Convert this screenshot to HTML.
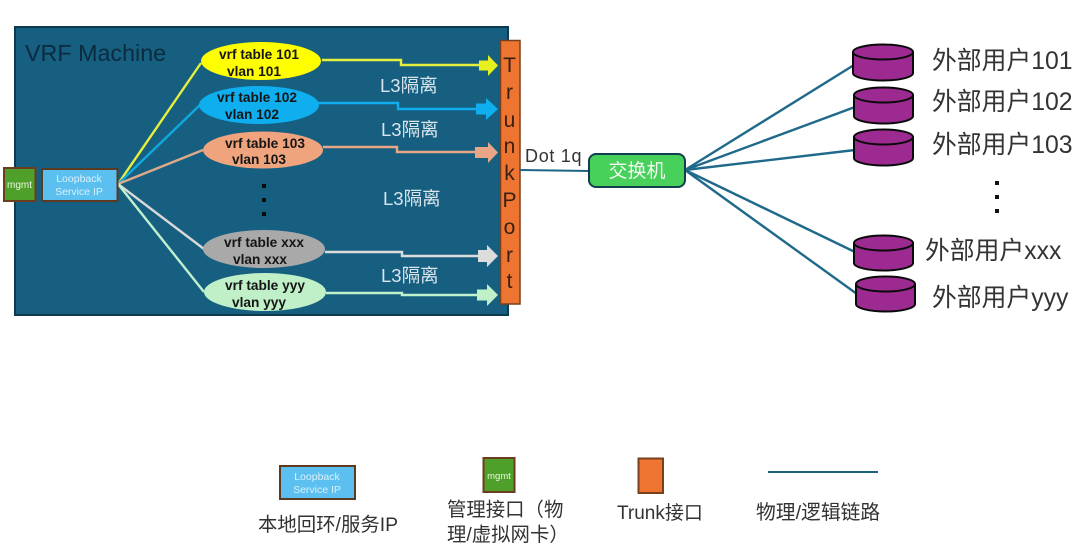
<!DOCTYPE html>
<html>
<head>
<meta charset="utf-8">
<style>
html,body{margin:0;padding:0;background:#fff;width:1080px;height:547px;overflow:hidden}
svg{display:block}
text{font-family:"Liberation Sans","Noto Sans CJK SC",sans-serif}
.e{font-size:13.7px;font-weight:bold;text-anchor:middle;fill:#151515}
.l3{font-size:18.5px;fill:#d9e6ee}
.t{font-size:21px;fill:#3a2010;text-anchor:middle}
.u{font-size:24.8px;fill:#333}
.g{font-size:19.4px;fill:#333}
.lb{font-size:10.5px;fill:#d8f1fb;text-anchor:middle}
.m{font-size:10px;fill:#e8f5dc;text-anchor:middle}
</style>
</head>
<body>
<svg width="1080" height="547" viewBox="0 0 1080 547" xmlns="http://www.w3.org/2000/svg">
<rect width="1080" height="547" fill="#fff"/>
<rect x="15" y="27" width="493" height="288" fill="#165f80" stroke="#0d3a4e" stroke-width="2"/>
<text x="25" y="61" font-size="23.3" fill="#0c2b3e">VRF Machine</text>

<g stroke-width="2.4" fill="none">
<line x1="118" y1="184" x2="201" y2="63" stroke="#e6f03c"/>
<line x1="118" y1="184" x2="200" y2="105" stroke="#0fa8e0"/>
<line x1="118" y1="184" x2="203" y2="150" stroke="#e0a98a"/>
<line x1="118" y1="184" x2="204" y2="249" stroke="#d9d9d9"/>
<line x1="118" y1="184" x2="204" y2="292" stroke="#c0f0cc"/>
</g>

<ellipse cx="261" cy="61" rx="60" ry="19" fill="#ffff00"/>
<ellipse cx="259" cy="105" rx="60" ry="19" fill="#0eaeef"/>
<ellipse cx="263" cy="150" rx="60" ry="18.5" fill="#efa47d"/>
<ellipse cx="264" cy="249" rx="61" ry="19" fill="#a9a9a9"/>
<ellipse cx="265" cy="292" rx="61" ry="19" fill="#bff0c8"/>

<text class="e" x="259" y="59">vrf table 101</text>
<text class="e" x="254" y="76">vlan 101</text>
<text class="e" x="257" y="102">vrf table 102</text>
<text class="e" x="252" y="119">vlan 102</text>
<text class="e" x="265" y="148">vrf table 103</text>
<text class="e" x="259" y="164">vlan 103</text>
<text class="e" x="264" y="247">vrf table xxx</text>
<text class="e" x="260" y="264">vlan xxx</text>
<text class="e" x="265" y="290">vrf table yyy</text>
<text class="e" x="259" y="307">vlan yyy</text>

<g fill="none" stroke-width="2.4">
<polyline points="322,60 401,60 401,65 482,65" stroke="#e6f03c"/>
<polyline points="318,103 398,103 398,109 480,109" stroke="#0eaeef"/>
<polyline points="323,147 397,147 397,152 480,152" stroke="#e8a686"/>
<polyline points="325,252 402,252 402,256 480,256" stroke="#dcdcdc"/>
<polyline points="326,293 402,293 402,295 480,295" stroke="#c0f0cc"/>
</g>
<polygon points="479,60.5 488,60.5 488,55 498,65.5 488,76 488,70.5 479,70.5" fill="#e6f01e"/>
<polygon points="476,103.5 486,103.5 486,98 498,109 486,120 486,114.5 476,114.5" fill="#0eaeef"/>
<polygon points="475,147 488,147 488,142 498,152.5 488,163 488,158 475,158" fill="#e8a686"/>
<polygon points="478,250 487,250 487,245 498,256 487,267 487,262 478,262" fill="#dcdcdc"/>
<polygon points="477,289.5 487,289.5 487,284 498,295 487,306 487,300.5 477,300.5" fill="#bff0c8"/>

<g fill="#0a0a0a">
<rect x="262" y="184" width="4" height="4"/>
<rect x="262" y="198" width="4" height="4"/>
<rect x="262" y="212" width="4" height="4"/>
</g>

<text class="l3" x="380" y="92">L3隔离</text>
<text class="l3" x="381" y="136">L3隔离</text>
<text class="l3" x="383" y="205">L3隔离</text>
<text class="l3" x="381" y="282">L3隔离</text>

<rect x="500.5" y="40.5" width="19.5" height="263.5" fill="#ed7431" stroke="#7a3f1c" stroke-width="1.5"/>
<text class="t" x="509.5" y="72">T</text>
<text class="t" x="509.5" y="99">r</text>
<text class="t" x="509.5" y="127">u</text>
<text class="t" x="509.5" y="153">n</text>
<text class="t" x="509.5" y="180">k</text>
<text class="t" x="509.5" y="207">P</text>
<text class="t" x="509.5" y="234">o</text>
<text class="t" x="509.5" y="262">r</text>
<text class="t" x="509.5" y="288">t</text>

<rect x="4" y="168" width="31.5" height="33" fill="#4fa02a" stroke="#6b3d1e" stroke-width="2"/>
<text class="m" x="19.5" y="188">mgmt</text>
<rect x="42" y="169" width="75.5" height="32" fill="#5bbff0" stroke="#5c3a22" stroke-width="2"/>
<text class="lb" x="79" y="182">Loopback</text>
<text class="lb" x="79" y="195">Service IP</text>

<line x1="520" y1="170" x2="590" y2="171" stroke="#1c6585" stroke-width="2"/>
<text x="525" y="162" font-size="18" letter-spacing="0.7" fill="#333">Dot 1q</text>

<g stroke="#1f6a8a" stroke-width="2.4">
<line x1="685" y1="170" x2="854" y2="65"/>
<line x1="685" y1="170" x2="855" y2="107"/>
<line x1="685" y1="170" x2="855" y2="150"/>
<line x1="685" y1="170" x2="855" y2="252"/>
<line x1="685" y1="170" x2="857" y2="294"/>
</g>
<rect x="589" y="154" width="96" height="33" rx="7" fill="#47d05a" stroke="#10404f" stroke-width="2"/>
<text x="637" y="177" font-size="19" fill="#f2fbf2" text-anchor="middle">交换机</text>

<g fill="#9c2a90" stroke="#0a0a0a" stroke-width="2">
<path d="M853,52 V73 A30,7.5 0 0 0 913,73 V52"/><ellipse cx="883" cy="52" rx="30" ry="7.5"/>
<path d="M854,95 V116 A29.5,7.5 0 0 0 913,116 V95"/><ellipse cx="883.5" cy="95" rx="29.5" ry="7.5"/>
<path d="M854,137 V158 A29.5,7.5 0 0 0 913,158 V137"/><ellipse cx="883.5" cy="137" rx="29.5" ry="7.5"/>
<path d="M854,243 V263 A29.5,7.5 0 0 0 913,263 V243"/><ellipse cx="883.5" cy="243" rx="29.5" ry="7.5"/>
<path d="M856,284 V304 A29.5,7.5 0 0 0 915,304 V284"/><ellipse cx="885.5" cy="284" rx="29.5" ry="7.5"/>
</g>

<text class="u" x="932" y="69">外部用户101</text>
<text class="u" x="932" y="110">外部用户102</text>
<text class="u" x="932" y="153">外部用户103</text>
<text class="u" x="925" y="259">外部用户xxx</text>
<text class="u" x="932" y="306">外部用户yyy</text>

<g fill="#111">
<rect x="995" y="181" width="4" height="4"/>
<rect x="995" y="195" width="4" height="4"/>
<rect x="995" y="209" width="4" height="4"/>
</g>

<rect x="280" y="466" width="75" height="33" fill="#5bbff0" stroke="#5c3a22" stroke-width="2"/>
<text class="lb" x="317" y="480">Loopback</text>
<text class="lb" x="317" y="493">Service IP</text>
<text class="g" x="258" y="531">本地回环/服务IP</text>

<rect x="483.5" y="458" width="31" height="34" fill="#4fa02a" stroke="#6b3d1e" stroke-width="2"/>
<text class="m" x="499" y="479" style="font-size:9.5px">mgmt</text>
<text class="g" x="447" y="516">管理接口（物</text>
<text class="g" x="447" y="541">理/虚拟网卡）</text>

<rect x="638.5" y="458.5" width="24.5" height="34.5" fill="#ed7431" stroke="#7a3f1c" stroke-width="2"/>
<text class="g" x="617" y="519" style="font-size:19px">Trunk接口</text>

<line x1="768" y1="472" x2="878" y2="472" stroke="#1c5f7c" stroke-width="2"/>
<text class="g" x="756" y="519" style="font-size:19.8px">物理/逻辑链路</text>
</svg>
</body>
</html>
